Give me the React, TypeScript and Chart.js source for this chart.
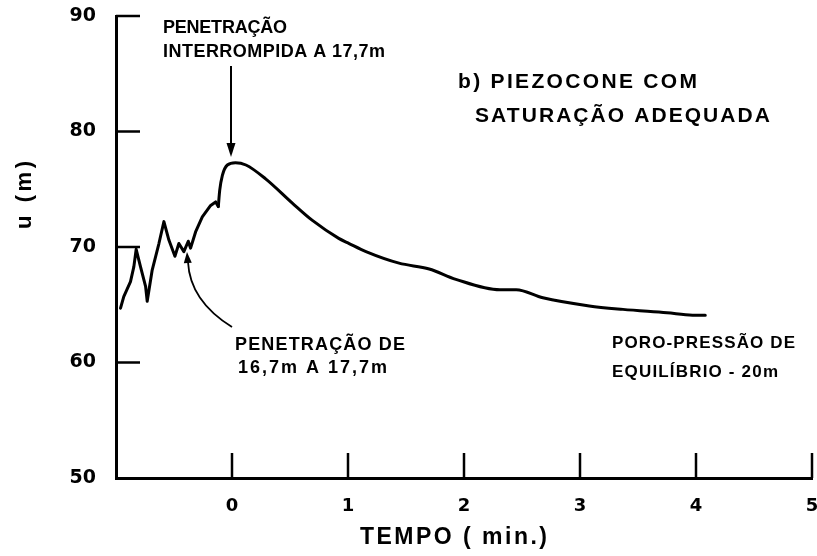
import React, { useEffect, useRef } from 'react';
import { Chart, registerables } from 'chart.js';

Chart.register(...registerables);

// Tempo (min.) and u (m)
const timeMin = [
  -0.961, -0.933, -0.875, -0.846, -0.826, -0.789, -0.745, -0.731, -0.688, -0.63,
  -0.587, -0.544, -0.492, -0.458, -0.415, -0.377, -0.357, -0.314, -0.256, -0.184,
  -0.141, -0.118, -0.106, -0.083, -0.04, 0.03, 0.12, 0.29, 0.52, 0.693,
  0.92, 1.01, 1.155, 1.44, 1.7, 1.93, 2.31, 2.45, 2.68, 3.08,
  3.37, 3.75, 3.97, 4.08,
];
const poroPressure = [
  64.7, 65.7, 67.0, 68.3, 69.8, 68.3, 66.6, 65.3, 68.0, 70.3,
  72.2, 70.6, 69.2, 70.3, 69.6, 70.5, 69.9, 71.3, 72.6, 73.6,
  73.9, 73.5, 74.9, 76.2, 77.1, 77.3, 77.1, 75.9, 73.8, 72.3,
  70.75, 70.3, 69.6, 68.6, 68.1, 67.2, 66.3, 66.3, 65.6, 64.9,
  64.6, 64.3, 64.1, 64.1,
];
// index where the jagged penetration record ends and the smooth dissipation begins
const dissipationStart = 21;

const xTickValues = [0, 1, 2, 3, 4, 5];
const yTickValues = [60, 70, 80, 90];

const xTitle = 'TEMPO ( min.)';
const yTitle = 'u (m)';
const noteTop1 = 'PENETRAÇÃO';
const noteTop2 = 'INTERROMPIDA A 17,7m';
const noteTitle1 = 'b) PIEZOCONE COM';
const noteTitle2 = 'SATURAÇÃO ADEQUADA';
const noteLow1 = 'PENETRAÇÃO DE';
const noteLow2 = '16,7m A 17,7m';
const noteEq1 = 'PORO-PRESSÃO DE';
const noteEq2 = 'EQUILÍBRIO - 20m';

const TEXT_FAMILY = '"Liberation Sans", Arial, sans-serif';
const TICK_FAMILY = '"DejaVu Sans", sans-serif';

function spacedText(
  ctx: CanvasRenderingContext2D,
  text: string,
  x: number,
  y: number,
  width: number,
  size: number,
) {
  ctx.font = `bold ${size}px ${TEXT_FAMILY}`;
  const anyCtx = ctx as any;
  const hasLS = 'letterSpacing' in anyCtx;
  if (hasLS) anyCtx.letterSpacing = '0px';
  const w = ctx.measureText(text).width;
  const n = Array.from(text).length;
  if (hasLS && n > 1) {
    anyCtx.letterSpacing = `${(width - w) / (n - 1)}px`;
  }
  ctx.fillText(text, x, y);
  if (hasLS) anyCtx.letterSpacing = '0px';
}

function arrowHead(
  ctx: CanvasRenderingContext2D,
  tipX: number,
  tipY: number,
  fromX: number,
  fromY: number,
  len: number,
  half: number,
) {
  const ang = Math.atan2(tipY - fromY, tipX - fromX);
  const bx = tipX - Math.cos(ang) * len;
  const by = tipY - Math.sin(ang) * len;
  const nx = -Math.sin(ang) * half;
  const ny = Math.cos(ang) * half;
  ctx.beginPath();
  ctx.moveTo(tipX, tipY);
  ctx.lineTo(bx + nx, by + ny);
  ctx.lineTo(bx - nx, by - ny);
  ctx.closePath();
  ctx.fill();
}

const decorPlugin = {
  id: 'decor',
  afterDraw(chart: any) {
    const { ctx, chartArea: area } = chart;
    const xs = chart.scales.x;
    const ys = chart.scales.y;
    ctx.save();
    ctx.strokeStyle = '#000';
    ctx.fillStyle = '#000';
    ctx.lineCap = 'butt';

    // inward tick marks
    ctx.lineWidth = 2.5;
    xTickValues.forEach((v) => {
      const px = xs.getPixelForValue(v);
      ctx.beginPath();
      ctx.moveTo(px, area.bottom);
      ctx.lineTo(px, area.bottom - 25);
      ctx.stroke();
    });
    yTickValues.forEach((v) => {
      const py = ys.getPixelForValue(v);
      ctx.beginPath();
      ctx.moveTo(area.left, py);
      ctx.lineTo(area.left + 24, py);
      ctx.stroke();
    });

    // straight arrow to the peak
    ctx.lineWidth = 2;
    ctx.beginPath();
    ctx.moveTo(231, 66);
    ctx.lineTo(231, 146);
    ctx.stroke();
    arrowHead(ctx, 231, 157, 231, 140, 14, 4.5);

    // curved arrow
    ctx.lineWidth = 1.8;
    ctx.beginPath();
    ctx.moveTo(232, 327);
    ctx.quadraticCurveTo(190, 301, 188, 262);
    ctx.stroke();
    arrowHead(ctx, 187, 252, 188, 266, 11, 4);

    // annotation texts
    ctx.textAlign = 'left';
    ctx.textBaseline = 'alphabetic';
    spacedText(ctx, noteTop1, 163, 33, 124, 18);
    spacedText(ctx, noteTop2, 163, 57, 222, 18);
    spacedText(ctx, noteTitle1, 458, 88, 239, 21);
    spacedText(ctx, noteTitle2, 475, 122, 295, 21);
    spacedText(ctx, noteLow1, 235, 350, 170, 18);
    spacedText(ctx, noteLow2, 238, 373, 149, 18);
    spacedText(ctx, noteEq1, 612, 348, 183, 17);
    spacedText(ctx, noteEq2, 612, 377, 166, 17);

    // axis titles
    spacedText(ctx, xTitle, 360, 544, 187, 23);
    ctx.save();
    ctx.translate(31, 229);
    ctx.rotate(-Math.PI / 2);
    spacedText(ctx, yTitle, 0, 0, 68, 22);
    ctx.restore();

    ctx.restore();
  },
};

export default function App() {
  const canvasRef = useRef<HTMLCanvasElement | null>(null);

  useEffect(() => {
    const canvas = canvasRef.current;
    if (!canvas) return;
    const points = timeMin.map((t, i) => ({ x: t, y: poroPressure[i] }));
    const penetration = points.slice(0, dissipationStart + 1);
    const dissipation = points.slice(dissipationStart);
    const lineStyle = {
      borderColor: '#000',
      borderWidth: 3,
      pointRadius: 0,
      fill: false,
      borderJoinStyle: 'round',
      borderCapStyle: 'round',
    };
    const chart = new Chart(canvas, {
      type: 'line',
      data: {
        datasets: [
          { ...lineStyle, data: penetration, tension: 0 },
          { ...lineStyle, data: dissipation, cubicInterpolationMode: 'monotone' },
        ],
      },
      options: {
        animation: false,
        responsive: false,
        devicePixelRatio: 1,
        events: [],
        layout: { padding: { left: 0, right: 5, top: 16, bottom: 0 } },
        plugins: { legend: { display: false }, tooltip: { enabled: false } },
        scales: {
          x: {
            type: 'linear',
            min: -1,
            max: 5,
            grid: { display: false, drawTicks: false },
            border: { display: true, color: '#000', width: 3 },
            ticks: {
              stepSize: 1,
              padding: 18,
              color: '#000',
              font: { family: TICK_FAMILY, size: 18, weight: 'bold' },
              callback: (v: any) => (Number(v) < 0 ? '' : String(v)),
            },
            afterFit: (scale: any) => {
              scale.height = 78;
              scale.paddingLeft = 0;
              scale.paddingRight = 0;
            },
          },
          y: {
            type: 'linear',
            min: 50,
            max: 90,
            grid: { display: false, drawTicks: false },
            border: { display: true, color: '#000', width: 3 },
            ticks: {
              stepSize: 10,
              padding: 20,
              color: '#000',
              font: { family: TICK_FAMILY, size: 19, weight: 'bold' },
            },
            afterFit: (scale: any) => {
              scale.width = 116;
              scale.paddingTop = 0;
              scale.paddingBottom = 0;
            },
          },
        },
      } as any,
      plugins: [decorPlugin],
    });
    return () => chart.destroy();
  }, []);

  return (
    <div style={{ position: 'absolute', left: 0, top: 0, width: 817, height: 556, background: '#fff' }}>
      <canvas ref={canvasRef} width={817} height={556} style={{ display: 'block' }} />
    </div>
  );
}
